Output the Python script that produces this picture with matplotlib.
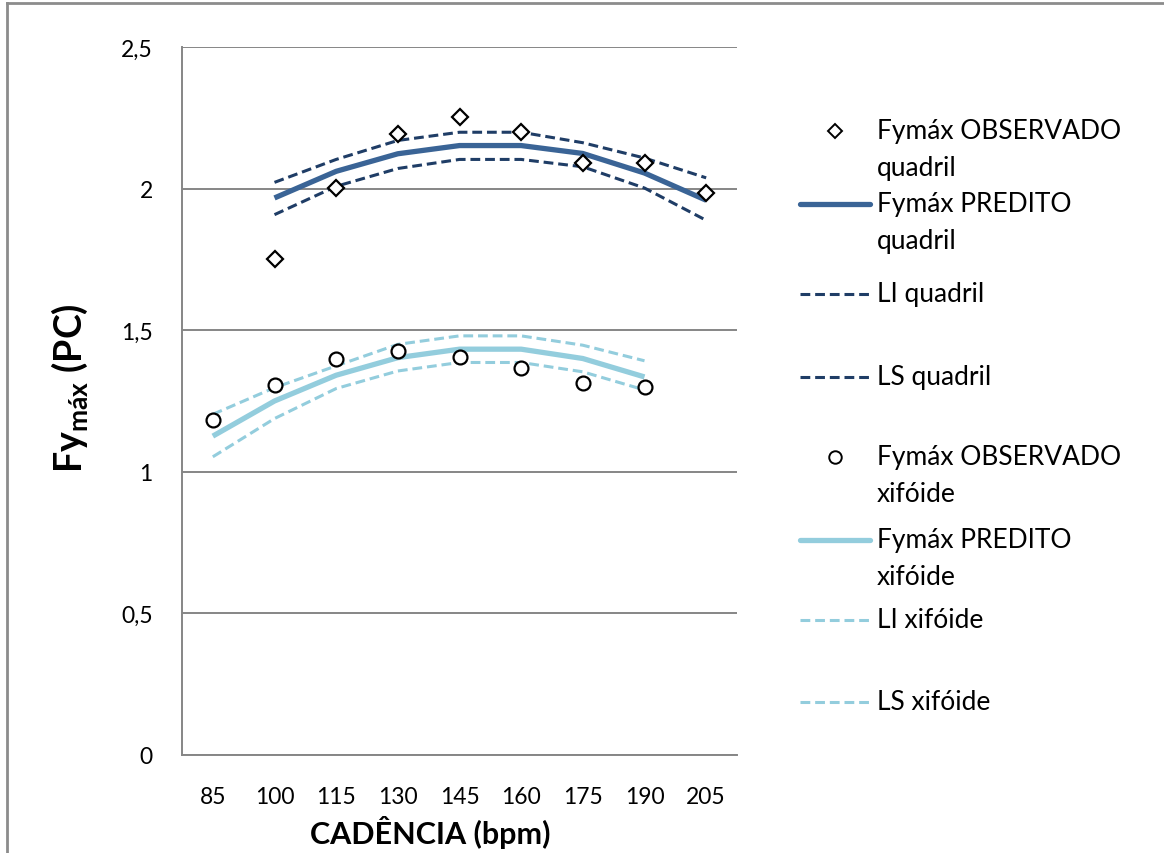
import numpy as np
import matplotlib
matplotlib.use("Agg")
import matplotlib.pyplot as plt
from matplotlib.lines import Line2D

plt.rcParams["font.family"] = ["Lato", "DejaVu Sans"]
plt.rcParams["mathtext.fontset"] = "custom"
plt.rcParams["mathtext.bf"] = "Lato:bold"
plt.rcParams["mathtext.rm"] = "Lato"

# --------------------------- data ---------------------------
cadencia = ["85", "100", "115", "130", "145", "160", "175", "190", "205"]

# quadril (no value at 85 bpm)
obs_quadril = [np.nan, 1.751, 2.001, 2.193, 2.252, 2.200, 2.091, 2.091, 1.983]
pred_quadril = [np.nan, 1.967, 2.061, 2.123, 2.152, 2.152, 2.124, 2.055, 1.959]
li_quadril = [np.nan, 1.908, 2.008, 2.071, 2.103, 2.103, 2.077, 2.002, 1.888]
ls_quadril = [np.nan, 2.022, 2.103, 2.170, 2.199, 2.199, 2.162, 2.108, 2.038]

# xifoide (no value at 205 bpm)
obs_xifoide = [1.183, 1.305, 1.397, 1.427, 1.407, 1.368, 1.312, 1.298, np.nan]
pred_xifoide = [1.126, 1.250, 1.341, 1.403, 1.433, 1.433, 1.400, 1.335, np.nan]
li_xifoide = [1.053, 1.188, 1.294, 1.356, 1.386, 1.386, 1.353, 1.289, np.nan]
ls_xifoide = [1.203, 1.297, 1.374, 1.450, 1.480, 1.480, 1.447, 1.392, np.nan]

DARK = "#3A6496"
NAVY = "#1F3D66"
LIGHT = "#93CDDD"
GRID = "#868686"

W, H = 1164, 854
fig = plt.figure(figsize=(W / 100, H / 100), dpi=100)


def fx(px):
    return px / W


def fy(py):
    return 1 - py / H


ax = fig.add_axes([fx(182), fy(756), fx(737) - fx(182), fy(48) - fy(756)])
x = np.arange(len(cadencia))

dash = (3.2, 1.6)
ax.plot(x, ls_quadril, color=NAVY, lw=2.2, dashes=dash)
ax.plot(x, li_quadril, color=NAVY, lw=2.2, dashes=dash)
ax.plot(x, pred_quadril, color=DARK, lw=3.8, solid_capstyle="butt")
ax.plot(x, obs_quadril, ls="none", marker="D", ms=8, mfc="white", mec="black", mew=1.6)

ax.plot(x, ls_xifoide, color=LIGHT, lw=2.2, dashes=dash)
ax.plot(x, li_xifoide, color=LIGHT, lw=2.2, dashes=dash)
ax.plot(x, pred_xifoide, color=LIGHT, lw=3.8, solid_capstyle="butt")
ax.plot(x, obs_xifoide, ls="none", marker="o", ms=10, mfc="white", mec="black", mew=1.6)

ax.set_xlim(-0.5, len(cadencia) - 0.5)
ax.set_ylim(0, 2.5)
ax.set_yticks([0, 0.5, 1, 1.5, 2, 2.5])
ax.set_yticklabels(["0", "0,5", "1", "1,5", "2", "2,5"])
ax.set_xticks(x)
ax.set_xticklabels(cadencia)
ax.tick_params(axis="both", length=0, labelsize=16.5)
ax.tick_params(axis="y", pad=21)
ax.tick_params(axis="x", pad=22)
ax.grid(axis="y", color=GRID, lw=1.4)
ax.set_axisbelow(True)
for s in ["top", "right"]:
    ax.spines[s].set_visible(False)
for s in ["left", "bottom"]:
    ax.spines[s].set_color(GRID)
    ax.spines[s].set_linewidth(1.4)

ax.set_xlabel("CADÊNCIA (bpm)", fontsize=22, fontweight="bold")
ax.xaxis.set_label_coords((430 - 182) / 555, -(816 - 756) / 708)
ax.set_ylabel("Fy$_{\\mathbf{máx}}$ (PC)", fontsize=27, fontweight="bold")
ax.yaxis.set_label_coords(-(182 - 90) / 555, (756 - 388) / 708)

# chart frame (left and top edges visible)
fig.add_artist(Line2D([fx(7), fx(7)], [0, fy(4)], color="#8C8C8C", lw=2))
fig.add_artist(Line2D([fx(7), 1], [fy(4), fy(4)], color="#8C8C8C", lw=2))

# legend drawn by hand to keep Excel-style two-line rows
entries = [
    ("marker", "D", None, "Fymáx OBSERVADO\nquadril", 132),
    ("line", "-", DARK, "Fymáx PREDITO\nquadril", 205),
    ("line", "--", NAVY, "LI quadril", 295),
    ("line", "--", NAVY, "LS quadril", 378),
    ("marker", "o", None, "Fymáx OBSERVADO\nxifóide", 458),
    ("line", "-", LIGHT, "Fymáx PREDITO\nxifóide", 541),
    ("line", "--", LIGHT, "LI xifóide", 621),
    ("line", "--", LIGHT, "LS xifóide", 703),
]
for kind, style, color, label, ypx in entries:
    if kind == "marker":
        fig.add_artist(Line2D([fx(835)], [fy(ypx)], ls="none", marker=style,
                              ms=7 if style == "D" else 9, mfc="white", mec="black", mew=1.4))
    else:
        kw = dict(lw=3.8) if style == "-" else dict(lw=2.2, dashes=dash)
        fig.add_artist(Line2D([fx(800), fx(870)], [fy(ypx), fy(ypx)], color=color,
                              solid_capstyle="round", **kw))
    fig.text(fx(877), fy(ypx - 13), label, fontsize=19, va="top", ha="left",
             linespacing=1.6)

fig.savefig("out.png", dpi=100)
